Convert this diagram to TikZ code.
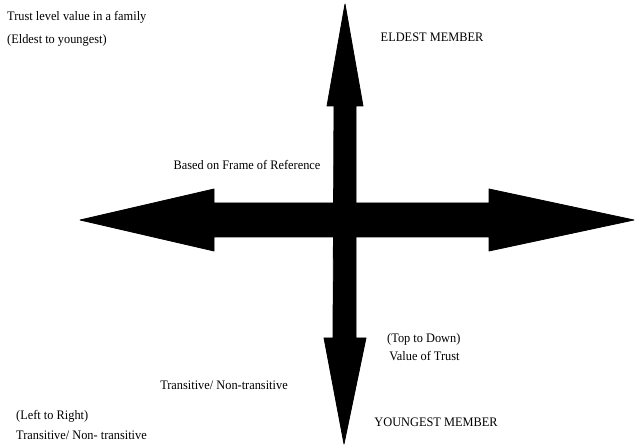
\documentclass[tikz,border=0pt]{standalone}
\usepackage{fontspec}
\setmainfont[FakeStretch=0.95]{Liberation Serif}
\begin{document}
\begin{tikzpicture}[x=1pt, y=1pt, every node/.style={font=\fontsize{13}{21}\selectfont, inner sep=0pt},
    lbl/.style={align=left, anchor=west},
    bigarrow/.style={fill=black, draw=black, line width=0.8pt, line join=round}]
    \useasboundingbox (0,0) rectangle (636,446);
    % the cross of arrows
    \filldraw[bigarrow] (80,226) -- (214,257) -- (214,243) -- (489,243) -- (489,257) -- (634,226)
        -- (489,195) -- (489,209) -- (214,209) -- (214,195) -- cycle;
    \filldraw[bigarrow] (345,442) -- (363,340) -- (356,340) -- (356,108) -- (366,108) -- (344,2)
        -- (324,108) -- (333,108) -- (334,340) -- (327,340) -- cycle;
    % labels
    \node[lbl, font=\fontsize{13}{23}\selectfont] (trust) at (7,417) {Trust level value in a family\\(Eldest to youngest)};
    \node (eldest) at (432,409) {ELDEST MEMBER};
    \node (frame) at (247,281) {Based on Frame of Reference};
    \node[lbl, font=\fontsize{13}{18}\selectfont] (topdown) at (387,99) {(Top to Down)\\\,Value of Trust};
    \node (youngest) at (436,24) {YOUNGEST MEMBER};
    \node (trans) at (224,61) {Transitive/ Non-transitive};
    \node[lbl, font=\fontsize{13}{20}\selectfont] (leftright) at (16,21) {(Left to Right)\\Transitive/ Non- transitive};
\end{tikzpicture}
\end{document}
